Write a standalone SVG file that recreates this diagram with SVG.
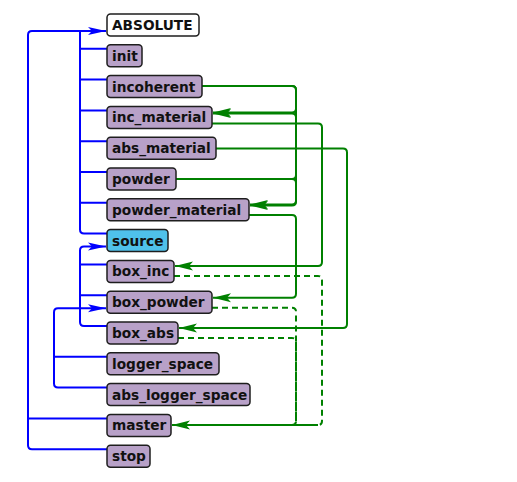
<svg xmlns="http://www.w3.org/2000/svg" width="517" height="482" viewBox="0 0 517 482">
<style>
.n rect{fill:#b8a1c8;stroke:#1e1e1e;stroke-width:1.5}
.n text{font-family:"DejaVu Sans",sans-serif;font-weight:bold;font-size:13.7px;fill:#111}
#n-ABSOLUTE rect{fill:#ffffff}
#n-source rect{fill:#4fc1ea}
.b{fill:none;stroke:#0000ff;stroke-width:2}
.g{fill:none;stroke:#008000;stroke-width:2}
.d{stroke-dasharray:6 4}
</style>
<defs>
<marker id="ab" markerUnits="userSpaceOnUse" markerWidth="20" markerHeight="12" viewBox="0 0 20 12" refX="18" refY="6" orient="auto"><path d="M0,2 L18,6 L0,10 L4,6 Z" fill="#0000ff"/></marker>
<marker id="ag" markerUnits="userSpaceOnUse" markerWidth="20" markerHeight="12" viewBox="0 0 20 12" refX="18" refY="6" orient="auto"><path d="M0,1.5 L18,6 L0,10.5 L4,6 Z" fill="#008000"/></marker>
</defs>
<g id="connectors">
<path class="b" d="M107,449.2 H32 Q28,449.2 28,445.2 V35 Q28,31 32,31 H106" marker-end="url(#ab)"/>
<path class="b" d="M107,418.4 H28"/>
<path class="b" d="M107,233.6 H84 Q80,233.6 80,229.6 V31"/>
<path class="b" d="M107,48.8 H80 M107,79.6 H80 M107,110.4 H80 M107,141.2 H80 M107,172 H80 M107,202.8 H80"/>
<path class="b" d="M107,326 H84 Q80,326 80,322 V250.6 Q80,246.6 84,246.6 H106" marker-end="url(#ab)"/>
<path class="b" d="M107,264.4 H80 M107,295.2 H80"/>
<path class="b" d="M107,387.6 H58 Q54,387.6 54,383.6 V312.2 Q54,308.2 58,308.2 H106" marker-end="url(#ab)"/>
<path class="b" d="M107,356.8 H54"/>
<path class="g" d="M202,86 H292 Q296,86 296,90 V108.5 Q296,112.5 292,112.5 H213" marker-end="url(#ag)"/>
<path class="g" d="M202,86 H292 Q296,86 296,90 V200.5 Q296,204.5 292,204.5 H250" marker-end="url(#ag)"/>
<path class="g" d="M176,179 H292 Q296,179 296,175 V117.5 Q296,113.5 292,113.5 H213" marker-end="url(#ag)"/>
<path class="g" d="M176,179 H292 Q296,179 296,183 V201.5 Q296,205.5 292,205.5 H250" marker-end="url(#ag)"/>
<path class="g" d="M212,123.5 H318 Q322,123.5 322,127.5 V262 Q322,266 318,266 H175" marker-end="url(#ag)"/>
<path class="g" d="M216,148.5 H343 Q347,148.5 347,152.5 V324 Q347,328 343,328 H179" marker-end="url(#ag)"/>
<path class="g" d="M249,215 H292 Q296,215 296,219 V293.7 Q296,297.7 292,297.7 H213" marker-end="url(#ag)"/>
<path class="g d" d="M174,276 H318 Q322,276 322,280 V421 Q322,425 318,425"/>
<path class="g d" d="M212,307.7 H292 Q296,307.7 296,311.7 V421 Q296,425 292,425"/>
<path class="g d" d="M178,338 H292 Q296,338 296,342 V421 Q296,425 292,425"/>
<path class="g" d="M318,425 H172" marker-end="url(#ag)"/>
</g>
<g id="n-ABSOLUTE" class="n"><rect x="107" y="14" width="92" height="22" rx="3.5"/><text x="112" y="30">ABSOLUTE</text></g>
<g id="n-init" class="n"><rect x="107" y="44.8" width="35" height="22" rx="3.5"/><text x="112" y="60.8">init</text></g>
<g id="n-incoherent" class="n"><rect x="107" y="75.6" width="95" height="22" rx="3.5"/><text x="112" y="91.6">incoherent</text></g>
<g id="n-inc_material" class="n"><rect x="107" y="106.4" width="105" height="22" rx="3.5"/><text x="112" y="122.4">inc_material</text></g>
<g id="n-abs_material" class="n"><rect x="107" y="137.2" width="109" height="22" rx="3.5"/><text x="112" y="153.2">abs_material</text></g>
<g id="n-powder" class="n"><rect x="107" y="168" width="69" height="22" rx="3.5"/><text x="112" y="184">powder</text></g>
<g id="n-powder_material" class="n"><rect x="107" y="198.8" width="142" height="22" rx="3.5"/><text x="112" y="214.8">powder_material</text></g>
<g id="n-source" class="n"><rect x="107" y="229.6" width="61" height="22" rx="3.5"/><text x="112" y="245.6">source</text></g>
<g id="n-box_inc" class="n"><rect x="107" y="260.4" width="67" height="22" rx="3.5"/><text x="112" y="276.4">box_inc</text></g>
<g id="n-box_powder" class="n"><rect x="107" y="291.2" width="105" height="22" rx="3.5"/><text x="112" y="307.2">box_powder</text></g>
<g id="n-box_abs" class="n"><rect x="107" y="322" width="71" height="22" rx="3.5"/><text x="112" y="338">box_abs</text></g>
<g id="n-logger_space" class="n"><rect x="107" y="352.8" width="112" height="22" rx="3.5"/><text x="112" y="368.8">logger_space</text></g>
<g id="n-abs_logger_space" class="n"><rect x="107" y="383.6" width="143" height="22" rx="3.5"/><text x="112" y="399.6">abs_logger_space</text></g>
<g id="n-master" class="n"><rect x="107" y="414.4" width="64" height="22" rx="3.5"/><text x="112" y="430.4">master</text></g>
<g id="n-stop" class="n"><rect x="107" y="445.2" width="43" height="22" rx="3.5"/><text x="112" y="461.2">stop</text></g>
</svg>
